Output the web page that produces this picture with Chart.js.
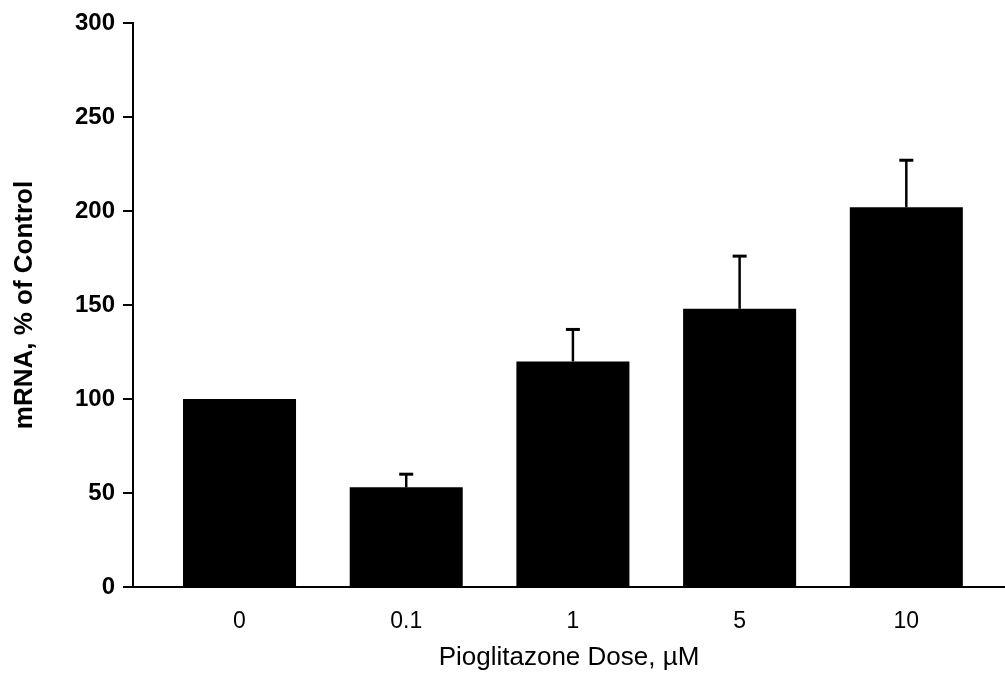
<!DOCTYPE html>
<html>
<head>
<meta charset="utf-8">
<script src="https://cdn.jsdelivr.net/npm/chart.js@4"></script>
<style>
  html, body { margin: 0; padding: 0; background: #fff; }
  #wrap { width: 1005px; height: 676px; position: relative; }
</style>
</head>
<body>
<div id="wrap"><canvas id="doseChart"></canvas></div>
<script>
// === DATA ===
const doses = ['0', '0.1', '1', '5', '10'];
const mrnaMean = [100, 53, 120, 148, 202];
const mrnaErr = [0, 7, 17, 28, 25];
const yTicks = [0, 50, 100, 150, 200, 250, 300];

// === ERROR BARS (upper only) ===
const errorBars = {
  id: 'errorBars',
  afterDatasetsDraw(chart) {
    const xs = chart.scales.x;
    const ys = chart.scales.y;
    const c = chart.ctx;
    c.save();
    c.strokeStyle = '#000';
    mrnaMean.forEach((m, i) => {
      if (!mrnaErr[i]) return;
      const x = xs.getPixelForValue(i);
      const yBar = ys.getPixelForValue(m);
      const yTop = ys.getPixelForValue(m + mrnaErr[i]);
      c.lineWidth = 2.5;
      c.beginPath();
      c.moveTo(x, yBar);
      c.lineTo(x, yTop);
      c.stroke();
      c.lineWidth = 3;
      c.beginPath();
      c.moveTo(x - 7, yTop);
      c.lineTo(x + 7, yTop);
      c.stroke();
    });
    c.restore();
  }
};

const ctx = document.getElementById('doseChart');
new Chart(ctx, {
  type: 'bar',
  data: {
    datasets: [{
      label: 'mRNA',
      data: mrnaMean.map((v, i) => ({ x: i, y: v })),
      backgroundColor: '#000',
      borderWidth: 0,
      categoryPercentage: 1,
      barPercentage: 0.678
    }]
  },
  options: {
    responsive: true,
    maintainAspectRatio: false,
    animation: false,
    layout: { padding: { top: 23, right: 0, bottom: 0, left: 0 } },
    plugins: {
      legend: { display: false },
      tooltip: { enabled: false }
    },
    scales: {
      x: {
        type: 'linear',
        offset: false,
        min: -0.639,
        max: 4.592,
        afterBuildTicks: (s) => { s.ticks = doses.map((d, i) => ({ value: i })); },
        afterFit: (s) => { s.height = 89; },
        grid: { display: false, drawTicks: false },
        border: { display: true, color: '#000', width: 2 },
        ticks: {
          color: '#000',
          padding: 21,
          font: { family: 'Liberation Sans', size: 23 },
          callback: (v) => doses[v]
        },
        title: {
          display: true,
          text: 'Pioglitazone Dose, µM',
          color: '#000',
          font: { family: 'Liberation Sans', size: 26 },
          padding: { top: 0, bottom: 3 }
        }
      },
      y: {
        min: 0,
        max: 300,
        afterBuildTicks: (s) => { s.ticks = yTicks.map(v => ({ value: v })); },
        afterFit: (s) => { s.width = 133; },
        grid: {
          drawOnChartArea: false,
          drawTicks: true,
          tickLength: 10,
          color: '#000',
          lineWidth: 2
        },
        border: { display: true, color: '#000', width: 2 },
        ticks: {
          color: '#000',
          padding: 8,
          font: { family: 'Liberation Sans', size: 24, weight: 'bold' }
        },
        title: {
          display: true,
          text: 'mRNA, % of Control',
          color: '#000',
          font: { family: 'Liberation Sans', size: 26, weight: 'bold' },
          padding: { top: 9, bottom: 0 }
        }
      }
    }
  },
  plugins: [errorBars]
});
</script>
</body>
</html>
